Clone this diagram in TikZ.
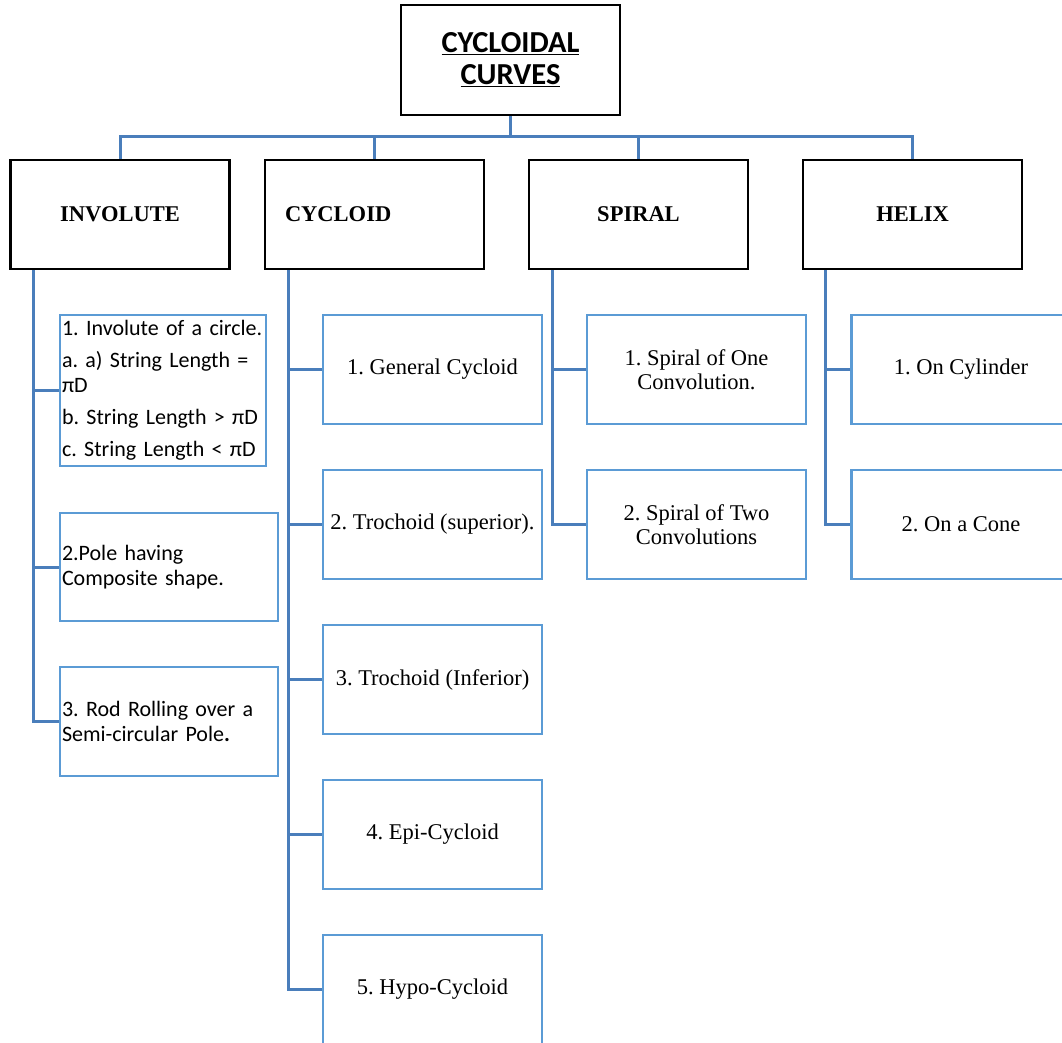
\documentclass[tikz,border=0pt]{standalone}
\usepackage{fontspec}
\setmainfont{Liberation Serif}
\newfontfamily\calfont{Carlito}
\definecolor{linkblue}{RGB}{74,126,187}
\definecolor{bordblue}{RGB}{91,155,213}
\frenchspacing
\begin{document}
\begin{tikzpicture}[x=1pt,y=-1pt,
 topbox/.style={draw=black, line width=2.5pt, minimum width=219pt, minimum height=110pt, inner sep=0pt, font=\calfont\bfseries\fontsize{30.5}{32}\selectfont, align=center},
 catbox/.style={draw=black, line width=2.5pt, minimum width=219pt, minimum height=109pt, inner sep=0pt, font=\bfseries\fontsize{22.5}{26}\selectfont},
 subbox/.style={draw=bordblue, line width=2.5pt, minimum width=219pt, minimum height=109pt, inner sep=0pt, font=\fontsize{22.5}{24}\selectfont, align=center},
 invbox/.style={draw=bordblue, line width=2.5pt, inner xsep=2pt, inner ysep=0pt, align=left, font=\calfont\fontsize{22}{25}\selectfont},
 link/.style={draw=linkblue, line width=3pt}
]
\useasboundingbox (0,0) rectangle (1062,1043);
\clip (0,0) rectangle (1062,1043);
\fill[white] (0,0) rectangle (1062,1043);

% root and categories
\node[topbox] (top) at (510.5,60) {\underline{CYCLOIDAL}\\\underline{CURVES}};
\node[catbox] (inv) at (120,214.5) {INVOLUTE};
\node[catbox, text width=179pt, inner xsep=20pt, align=left] (cyc) at (374.5,214.5) {CYCLOID};
\node[catbox] (spi) at (638.5,214.5) {SPIRAL};
\node[catbox] (hel) at (912.5,214.5) {HELIX};

\coordinate (bus) at (510.5,137);
\draw[link] (top.south) -- (bus);
\draw[link] (inv.north) |- (bus) -| (hel.north);
\draw[link] (cyc.north) -- (cyc.north |- bus);
\draw[link] (spi.north) -- (spi.north |- bus);

% involute
\node[invbox, text width=202pt, minimum height=151pt] (i1) at (163,390.5)
 {1. Involute of a circle.\\[7pt] a. a) String Length =\\ πD\\[7pt] b. String Length > πD\\[7pt] c. String Length < πD};
\node[invbox, text width=214pt, minimum height=108pt] (i2) at (169,567) {2.Pole having\\Composite shape.};
\node[invbox, text width=214pt, minimum height=109pt] (i3) at (169,721.5) {3. Rod Rolling over a\\Semi-circular Pole{\bfseries .}};
\coordinate (itr) at ([xshift=24pt]inv.south west);
\draw[link] (itr) |- (i3.west);
\draw[link] (i1.west) -- (i1.west -| itr);
\draw[link] (i2.west) -- (i2.west -| itr);

% cycloid
\node[subbox] (c1) at (432.5,369.5) {1. General Cycloid};
\node[subbox] (c2) at (432.5,524.5) {2. Trochoid (superior).};
\node[subbox] (c3) at (432.5,679.5) {3. Trochoid (Inferior)};
\node[subbox] (c4) at (432.5,834.5) {4. Epi-Cycloid};
\node[subbox] (c5) at (432.5,989.5) {5. Hypo-Cycloid};
\coordinate (ctr) at ([xshift=24.5pt]cyc.south west);
\draw[link] (ctr) |- (c5.west);
\foreach \n in {c1,c2,c3,c4}{\draw[link] (\n.west) -- (\n.west -| ctr);}

% spiral
\node[subbox] (s1) at (696.5,369.5) {1. Spiral of One\\Convolution.};
\node[subbox] (s2) at (696.5,524.5) {2. Spiral of Two\\Convolutions};
\coordinate (str) at ([xshift=24.5pt]spi.south west);
\draw[link] (str) |- (s2.west);
\draw[link] (s1.west) -- (s1.west -| str);

% helix
\node[subbox] (h1) at (961,369.5) {1. On Cylinder};
\node[subbox] (h2) at (961,524.5) {2. On a Cone};
\coordinate (htr) at ([xshift=24pt]hel.south west);
\draw[link] (htr) |- (h2.west);
\draw[link] (h1.west) -- (h1.west -| htr);
\end{tikzpicture}
\end{document}
